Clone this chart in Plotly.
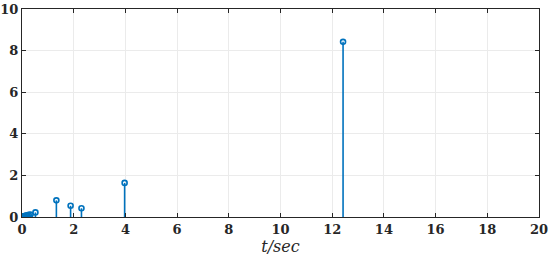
import plotly.graph_objects as go

# stem data (t in sec, amplitude)
t_vals = [0.02, 0.06, 0.10, 0.15, 0.20, 0.26, 0.33, 0.52, 1.33, 1.88, 2.30, 3.97, 12.42]
amp_vals = [0.01, 0.03, 0.05, 0.07, 0.08, 0.10, 0.12, 0.22, 0.80, 0.54, 0.42, 1.64, 8.42]

x_ticks = [0, 2, 4, 6, 8, 10, 12, 14, 16, 18, 20]
y_ticks = [0, 2, 4, 6, 8, 10]

blue = '#0072BD'
serif = 'DejaVu Serif'

# build the stems as one broken line
stem_x, stem_y = [], []
for t, a in zip(t_vals, amp_vals):
    stem_x += [t, t, None]
    stem_y += [0, a, None]

fig = go.Figure()
fig.add_trace(go.Scatter(x=stem_x, y=stem_y, mode='lines',
                         line=dict(color=blue, width=1.6), hoverinfo='skip'))
fig.add_trace(go.Scatter(x=t_vals, y=amp_vals, mode='markers',
                         marker=dict(symbol='circle-open', size=5, color=blue,
                                     line=dict(width=1.6, color=blue))))

axis_common = dict(showline=True, linecolor='#262626', linewidth=1, mirror='ticks',
                   ticks='inside', ticklen=4, tickcolor='#262626', automargin=False,
                   showgrid=True, gridcolor='#EBEBEB', gridwidth=1, zeroline=False,
                   tickfont=dict(family=serif, size=13, color='#262626'))

fig.update_xaxes(range=[0, 20], tickvals=x_ticks,
                 ticktext=['<b>%d</b>' % v for v in x_ticks],
                 title=dict(text='<i>t/sec</i>', standoff=5,
                            font=dict(family=serif, size=16, color='#262626')),
                 **axis_common)
fig.update_yaxes(range=[0, 10], tickvals=y_ticks,
                 ticktext=['<b>%d</b>' % v for v in y_ticks],
                 **axis_common)

fig.update_layout(width=550, height=258, showlegend=False,
                  plot_bgcolor='white', paper_bgcolor='white',
                  font=dict(family=serif),
                  margin=dict(l=22, r=11, t=9, b=41))

# page body has a default 8px margin; drop it so the figure fills the window
fig.write_html("out.html", config={'displayModeBar': False},
               post_script="document.body.style.margin='0';")
